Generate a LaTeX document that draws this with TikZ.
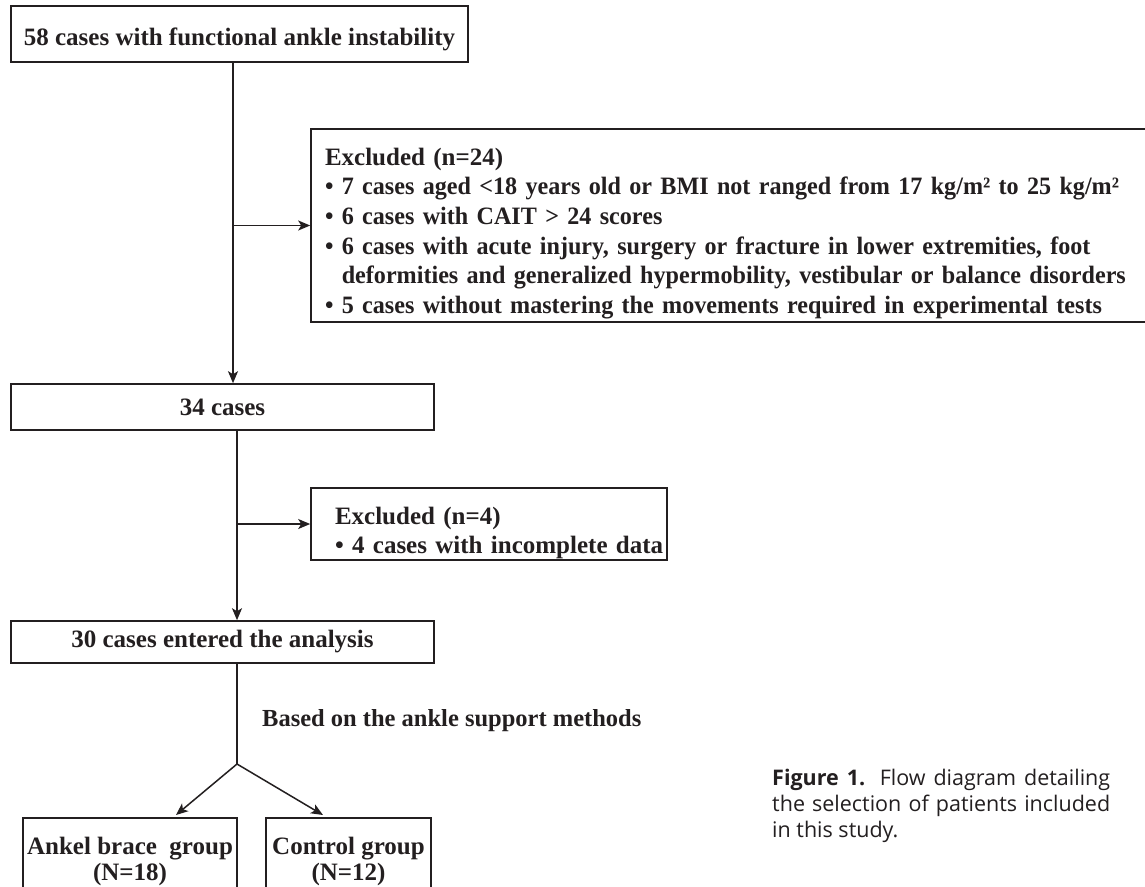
\documentclass[tikz,border=0pt]{standalone}
\usepackage{fontspec}
\setmainfont{Liberation Serif}
\newfontfamily\narrowserif[FakeStretch=0.965]{Liberation Serif}
\newfontfamily\capfont{Open Sans}
\usetikzlibrary{arrows.meta}
\definecolor{ink}{HTML}{231F20}
\begin{document}
\begin{tikzpicture}[x=1pt,y=1pt,
  box/.style={draw=ink, line width=1.6pt, text=ink, inner sep=0pt,
    font=\fontsize{25}{29.6}\selectfont\bfseries},
  grp/.style={box, font=\fontsize{25}{26}\selectfont\bfseries, minimum height=86, align=center},
  arr/.style={draw=ink, line width=1.5pt, -{Stealth[length=12pt,width=10pt,inset=3pt]}},
  ln/.style={draw=ink, line width=1.5pt}]
\useasboundingbox (0,0) rectangle (1145,-886);
\fill[white] (0,0) rectangle (1145,-886);

\node[box, minimum width=457, minimum height=56] (n58) at (239.5,-34)
  {\raisebox{-5pt}[\height][\depth]{58 cases with functional ankle instability}};
\node[box, minimum width=836, minimum height=193, text width=808, align=left] (ex1) at (729,-225.5)
  {\mbox{\rule{0pt}{33pt}Excluded (n=24)}\\
   \mbox{\narrowserif • 7 cases aged <18 years old or BMI not ranged from 17 kg/m² to 25 kg/m²}\\
   \mbox{\narrowserif • 6 cases with CAIT > 24 scores}\\
   \mbox{\narrowserif • 6 cases with acute injury, surgery or fracture in lower extremities, foot}\\
   \mbox{\narrowserif \hphantom{• }deformities and generalized hypermobility, vestibular or balance disorders}\\
   \mbox{\narrowserif • 5 cases without mastering the movements required in experimental tests}};
\node[box, minimum width=423, minimum height=46] (n34) at (222.5,-407) {34 cases};
\node[box, minimum width=356, minimum height=72, text width=308, align=left] (ex2) at (489,-524)
  {\mbox{\rule{0pt}{35pt}Excluded (n=4)}\\
   \mbox{• 4 cases with incomplete data}};
\node[box, minimum width=423, minimum height=42] (n30) at (222.5,-642)
  {30 cases entered the analysis};
\node[grp, minimum width=214] (ankel) at (130,-861)
  {Ankel brace\ \ group\\(N=18)};
\node[grp, minimum width=165] (control) at (348.5,-861)
  {Control group\\(N=12)};

\node[text=ink, inner sep=0pt, anchor=base west, font=\fontsize{24.5}{29}\selectfont\bfseries] (based) at (262,-726)
  {Based on the ankle support methods};

\node[text=ink, inner sep=0pt, anchor=north west, text width=338, align=justify,
  font=\capfont\fontsize{21.5}{26}\selectfont] (cap) at (772,-769)
  {\textbf{Figure 1.} Flow diagram detailing\linebreak the selection of patients included\linebreak in this study.};

\coordinate (tx) at (233,0);
\coordinate (bx) at (237,0);
\coordinate (split) at (237,-764);
\coordinate (tipL) at (176,-815);
\coordinate (tipR) at (323,-815);

\draw[arr] (n58.south -| tx) -- (n34.north -| tx);
\draw[arr] (ex1.west -| tx) -- (ex1.west);
\draw[arr] (n34.south -| bx) -- (n30.north -| bx);
\draw[arr] (ex2.west -| bx) -- (ex2.west);
\draw[ln] (n30.south -| bx) -- (split);
\draw[arr] (split) -- (tipL);
\draw[arr] (split) -- (tipR);
\end{tikzpicture}
\end{document}
